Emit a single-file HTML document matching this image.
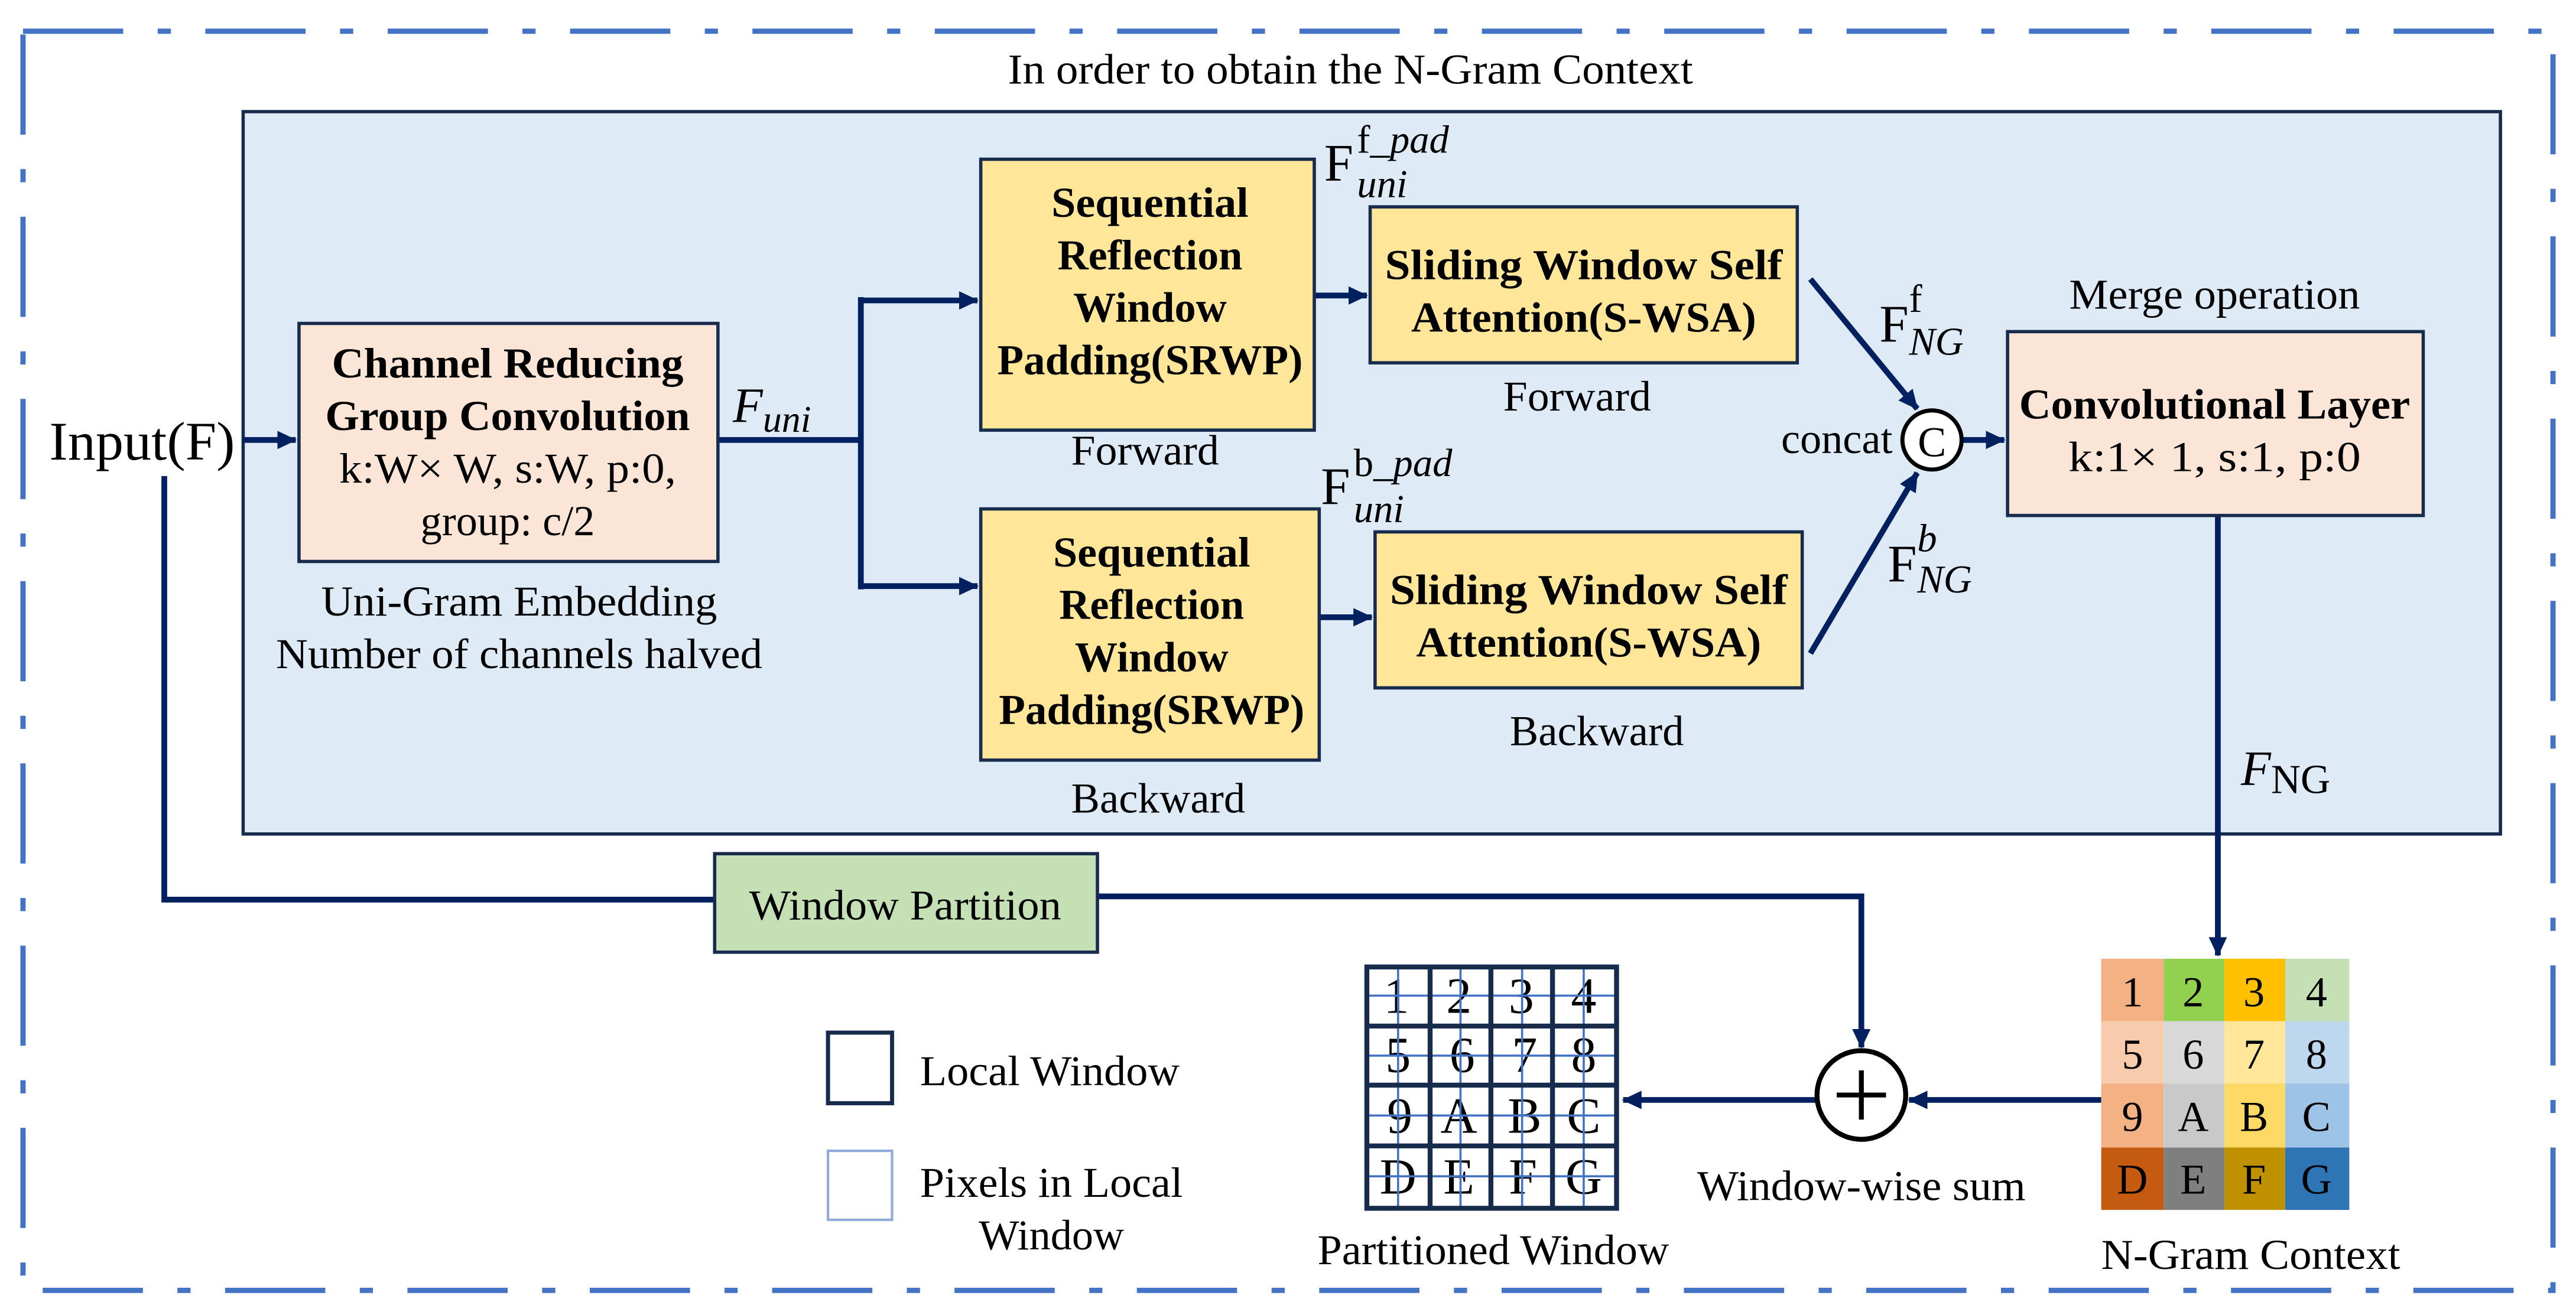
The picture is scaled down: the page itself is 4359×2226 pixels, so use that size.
<!DOCTYPE html>
<html><head><meta charset="utf-8"><style>html,body{margin:0;padding:0;background:#fff}svg{display:block}</style></head>
<body>
<svg width="4359" height="2226" viewBox="0 0 1568 801" preserveAspectRatio="none" xmlns="http://www.w3.org/2000/svg" font-family="'Liberation Serif', serif">
<defs>
<marker id="a" markerWidth="4" markerHeight="4" refX="3.2" refY="2" orient="auto" markerUnits="strokeWidth"><path d="M0,0.4 L3.4,2 L0,3.6 Z" fill="#002060"/></marker>
</defs>
<rect x="14" y="19" width="1540" height="767" fill="none" stroke="#4472c4" stroke-width="3.2" stroke-dasharray="61,21,8,21"/>
<text x="822" y="51" font-size="26" text-anchor="middle" textLength="417" lengthAdjust="spacingAndGlyphs">In order to obtain the N-Gram Context</text>
<rect x="148" y="68" width="1374" height="440" fill="#deebf7" stroke="#172b4d" stroke-width="2"/>
<g stroke="#002060" stroke-width="3.5" fill="none">
<line x1="148" y1="268" x2="180" y2="268" marker-end="url(#a)"/>
<polyline points="100,290 100,548 435,548"/>
<polyline points="437,268 524,268"/>
<line x1="524" y1="181" x2="524" y2="359"/>
<line x1="524" y1="183" x2="595" y2="183" marker-end="url(#a)"/>
<line x1="524" y1="357" x2="595" y2="357" marker-end="url(#a)"/>
<line x1="800" y1="180" x2="832" y2="180" marker-end="url(#a)"/>
<line x1="803" y1="376" x2="835" y2="376" marker-end="url(#a)"/>
<line x1="1102" y1="170" x2="1167" y2="249" marker-end="url(#a)"/>
<line x1="1102" y1="398" x2="1167" y2="288" marker-end="url(#a)"/>
<line x1="1194" y1="268" x2="1220" y2="268" marker-end="url(#a)"/>
<line x1="1350" y1="314" x2="1350" y2="582" marker-end="url(#a)"/>
<polyline points="668,546 1133,546 1133,638" marker-end="url(#a)"/>
<line x1="1279" y1="670" x2="1162" y2="670" marker-end="url(#a)"/>
<line x1="1106" y1="670" x2="988" y2="670" marker-end="url(#a)"/>
</g>
<text x="30" y="280" font-size="33" textLength="113" lengthAdjust="spacingAndGlyphs">Input(F)</text>
<rect x="182" y="197" width="255" height="145" fill="#fbe5d6" stroke="#172b4d" stroke-width="2"/>
<g font-size="26" text-anchor="middle">
<text x="309" y="230" font-weight="bold" textLength="214" lengthAdjust="spacingAndGlyphs">Channel Reducing</text>
<text x="309" y="262" font-weight="bold" textLength="222" lengthAdjust="spacingAndGlyphs">Group Convolution</text>
<text x="309" y="294" textLength="205" lengthAdjust="spacingAndGlyphs">k:W× W, s:W, p:0,</text>
<text x="309" y="326">group: c/2</text>
<text x="316" y="375" textLength="241" lengthAdjust="spacingAndGlyphs">Uni-Gram Embedding</text>
<text x="316" y="407" textLength="296" lengthAdjust="spacingAndGlyphs">Number of channels halved</text>
</g>
<text x="446" y="257" font-size="30" font-style="italic">F<tspan font-size="23" dy="6">uni</tspan></text>
<rect x="597" y="97" width="203" height="165" fill="#ffe699" stroke="#172b4d" stroke-width="2"/>
<rect x="597" y="310" width="206" height="153" fill="#ffe699" stroke="#172b4d" stroke-width="2"/>
<g font-size="26" text-anchor="middle" font-weight="bold">
<text x="700" y="132" textLength="120" lengthAdjust="spacingAndGlyphs">Sequential</text><text x="700" y="164">Reflection</text><text x="700" y="196">Window</text><text x="700" y="228" textLength="186" lengthAdjust="spacingAndGlyphs">Padding(SRWP)</text>
<text x="701" y="345" textLength="120" lengthAdjust="spacingAndGlyphs">Sequential</text><text x="701" y="377">Reflection</text><text x="701" y="409">Window</text><text x="701" y="441" textLength="186" lengthAdjust="spacingAndGlyphs">Padding(SRWP)</text>
</g>
<rect x="834" y="126" width="260" height="95" fill="#ffe699" stroke="#172b4d" stroke-width="2"/>
<rect x="837" y="324" width="260" height="95" fill="#ffe699" stroke="#172b4d" stroke-width="2"/>
<g font-size="26" text-anchor="middle" font-weight="bold">
<text x="964" y="170" textLength="242" lengthAdjust="spacingAndGlyphs">Sliding  Window Self</text>
<text x="964" y="202" textLength="210" lengthAdjust="spacingAndGlyphs">Attention(S-WSA)</text>
<text x="967" y="368" textLength="242" lengthAdjust="spacingAndGlyphs">Sliding  Window Self</text>
<text x="967" y="400" textLength="210" lengthAdjust="spacingAndGlyphs">Attention(S-WSA)</text>
</g>
<g font-size="26" text-anchor="middle">
<text x="697" y="283" textLength="90" lengthAdjust="spacingAndGlyphs">Forward</text>
<text x="705" y="495" textLength="106" lengthAdjust="spacingAndGlyphs">Backward</text>
<text x="960" y="250" textLength="90" lengthAdjust="spacingAndGlyphs">Forward</text>
<text x="972" y="454" textLength="106" lengthAdjust="spacingAndGlyphs">Backward</text>
<text x="1348" y="188" textLength="177" lengthAdjust="spacingAndGlyphs">Merge operation</text>
</g>
<text x="806" y="110" font-size="32">F</text>
<text x="826" y="93" font-size="24">f_<tspan font-style="italic">pad</tspan></text>
<text x="826" y="120" font-size="24" font-style="italic">uni</text>
<text x="804" y="307" font-size="32">F</text>
<text x="824" y="290" font-size="24">b_<tspan font-style="italic">pad</tspan></text>
<text x="824" y="318" font-size="24" font-style="italic">uni</text>
<text x="1144" y="208" font-size="32">F</text>
<text x="1162" y="190" font-size="24">f</text>
<text x="1162" y="216" font-size="24" font-style="italic">NG</text>
<text x="1149" y="354" font-size="32">F</text>
<text x="1167" y="336" font-size="24" font-style="italic">b</text>
<text x="1167" y="361" font-size="24" font-style="italic">NG</text>
<text x="1152" y="276" font-size="26" text-anchor="end">concat</text>
<circle cx="1176" cy="268" r="18" fill="#fff" stroke="#000" stroke-width="2.5"/>
<text x="1176" y="278" font-size="26" text-anchor="middle">C</text>
<rect x="1222" y="202" width="253" height="112" fill="#fbe5d6" stroke="#172b4d" stroke-width="2"/>
<text x="1348" y="255" font-size="26" font-weight="bold" text-anchor="middle" textLength="238" lengthAdjust="spacingAndGlyphs">Convolutional Layer</text>
<text x="1348" y="287" font-size="26" text-anchor="middle" textLength="178" lengthAdjust="spacingAndGlyphs">k:1× 1, s:1,  p:0</text>
<text x="1364" y="478" font-size="30" font-style="italic">F<tspan font-style="normal" font-size="25" dy="5">NG</tspan></text>
<rect x="435" y="520" width="233" height="60" fill="#c5e0b4" stroke="#172b4d" stroke-width="2"/>
<text x="551" y="560" font-size="26" text-anchor="middle" textLength="190" lengthAdjust="spacingAndGlyphs">Window Partition</text>
<!-- N-gram grid -->
<g font-size="26" text-anchor="middle">
<rect x="1279" y="584" width="38" height="38" fill="#f4b183"/><rect x="1317" y="584" width="37" height="38" fill="#92d050"/><rect x="1354" y="584" width="37" height="38" fill="#ffc000"/><rect x="1391" y="584" width="39" height="38" fill="#c5e0b4"/>
<rect x="1279" y="622" width="38" height="38" fill="#f8cbad"/><rect x="1317" y="622" width="37" height="38" fill="#d9d9d9"/><rect x="1354" y="622" width="37" height="38" fill="#ffe699"/><rect x="1391" y="622" width="39" height="38" fill="#bdd7ee"/>
<rect x="1279" y="660" width="38" height="39" fill="#f4b183"/><rect x="1317" y="660" width="37" height="39" fill="#c9c9c9"/><rect x="1354" y="660" width="37" height="39" fill="#ffd966"/><rect x="1391" y="660" width="39" height="39" fill="#9dc3e6"/>
<rect x="1279" y="699" width="38" height="38" fill="#c55a11"/><rect x="1317" y="699" width="37" height="38" fill="#7f7f7f"/><rect x="1354" y="699" width="37" height="38" fill="#bf9000"/><rect x="1391" y="699" width="39" height="38" fill="#2e75b6"/>
<text x="1298" y="613">1</text><text x="1335" y="613">2</text><text x="1372" y="613">3</text><text x="1410" y="613">4</text>
<text x="1298" y="651">5</text><text x="1335" y="651">6</text><text x="1372" y="651">7</text><text x="1410" y="651">8</text>
<text x="1298" y="689">9</text><text x="1335" y="689">A</text><text x="1372" y="689">B</text><text x="1410" y="689">C</text>
<text x="1298" y="727">D</text><text x="1335" y="727">E</text><text x="1372" y="727">F</text><text x="1410" y="727">G</text>
<text x="1370" y="773" textLength="182" lengthAdjust="spacingAndGlyphs">N-Gram Context</text>
</g>
<!-- partitioned window -->
<g>
<rect x="832" y="589" width="152" height="147" fill="#fff"/>
<g font-size="31" text-anchor="middle">
<text x="850" y="617">1</text><text x="888" y="617">2</text><text x="926" y="617">3</text><text x="964" y="617">4</text>
<text x="851" y="653">5</text><text x="890" y="653">6</text><text x="928" y="653">7</text><text x="964" y="653">8</text>
<text x="852" y="690">9</text><text x="888" y="690">A</text><text x="928" y="690">B</text><text x="964" y="690">C</text>
<text x="851" y="727">D</text><text x="888" y="727">E</text><text x="927" y="727">F</text><text x="964" y="727">G</text>
</g>
<g stroke="#4472c4" stroke-width="1.3">
<line x1="851" y1="590" x2="851" y2="735"/><line x1="889" y1="590" x2="889" y2="735"/><line x1="926.5" y1="590" x2="926.5" y2="735"/><line x1="964" y1="590" x2="964" y2="735"/>
<line x1="833" y1="606.5" x2="983" y2="606.5"/><line x1="833" y1="643" x2="983" y2="643"/><line x1="833" y1="679.5" x2="983" y2="679.5"/><line x1="833" y1="716.5" x2="983" y2="716.5"/>
</g>
<g stroke="#172b4d" stroke-width="3" fill="none">
<rect x="832" y="589" width="152" height="147"/>
<line x1="870.5" y1="589" x2="870.5" y2="736"/><line x1="907.5" y1="589" x2="907.5" y2="736"/><line x1="945" y1="589" x2="945" y2="736"/>
<line x1="832" y1="625" x2="984" y2="625"/><line x1="832" y1="661" x2="984" y2="661"/><line x1="832" y1="698" x2="984" y2="698"/>
</g>
<text x="909" y="770" font-size="26" text-anchor="middle" textLength="214" lengthAdjust="spacingAndGlyphs">Partitioned Window</text>
</g>
<circle cx="1133" cy="667" r="27" fill="#fff" stroke="#000" stroke-width="3"/>
<line x1="1118" y1="667" x2="1148" y2="667" stroke="#000" stroke-width="3"/>
<line x1="1133" y1="652" x2="1133" y2="682" stroke="#000" stroke-width="3"/>
<text x="1133" y="731" font-size="26" text-anchor="middle" textLength="200" lengthAdjust="spacingAndGlyphs">Window-wise sum</text>
<rect x="504" y="629" width="39" height="43" fill="#fff" stroke="#172b4d" stroke-width="2.5"/>
<text x="560" y="661" font-size="26" textLength="158" lengthAdjust="spacingAndGlyphs">Local Window</text>
<rect x="504" y="701" width="39" height="42" fill="#fff" stroke="#8faadc" stroke-width="1.5"/>
<text x="560" y="729" font-size="26" textLength="160" lengthAdjust="spacingAndGlyphs">Pixels in Local</text>
<text x="640" y="761" font-size="26" text-anchor="middle">Window</text>
</svg>
</body></html>
